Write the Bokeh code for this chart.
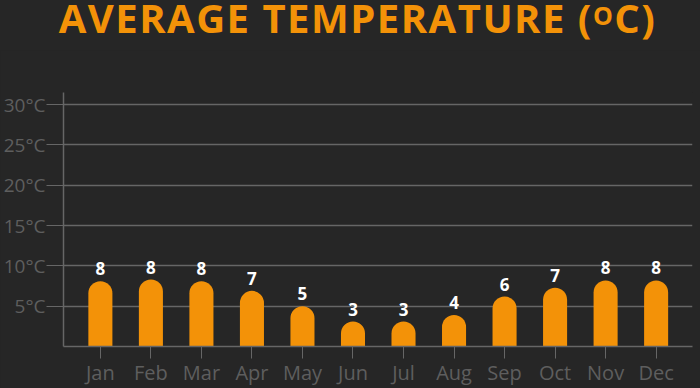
from bokeh.plotting import figure
from bokeh.models import Range1d, FixedTicker, ColumnDataSource, Div
from bokeh.layouts import column
from bokeh.embed import file_html
from bokeh.resources import INLINE
from bokeh.core.properties import value

months = ["Jan", "Feb", "Mar", "Apr", "May", "Jun", "Jul", "Aug", "Sep", "Oct", "Nov", "Dec"]
temps = [8.1, 8.3, 8.1, 6.9, 5.0, 3.1, 3.1, 3.9, 6.2, 7.3, 8.2, 8.2]
y_ticks = [5, 10, 15, 20, 25, 30]
y_tick_labels = ["5°C", "10°C", "15°C", "20°C", "25°C", "30°C"]
title_main = "AVERAGE TEMPERATURE ("
title_sup = "O"
title_end = "C)"

BG = "#262626"
ORANGE = "#F39208"
GREY = "#666666"
LABEL_GREY = "#5e5e5e"

TITLE_H = 50

title = Div(
    text=(f'<div style="position:relative;top:-2px;text-align:center;box-sizing:border-box;'
          f'padding-left:15px;width:700px;white-space:nowrap;color:{ORANGE};'
          f'font-family:\'Open Sans\';font-weight:bold;font-size:40px;line-height:1;'
          f'letter-spacing:1.5px;">'
          f'{title_main}<span style="font-size:25px;vertical-align:8px;">{title_sup}</span>'
          f'{title_end}</div>'),
    width=700, height=TITLE_H, margin=0, styles={"overflow": "visible"})

xs = list(range(len(months)))
src = ColumnDataSource(dict(x=xs, top=temps, label=[str(int(round(t))) for t in temps]))

p = figure(width=700, height=388 - TITLE_H, output_backend="svg", toolbar_location=None,
           x_range=Range1d(-0.73, 11.72), y_range=Range1d(0, 31.5),
           background_fill_color=BG, border_fill_color=BG,
           min_border_left=0, min_border_right=8, min_border_top=92 - TITLE_H,
           min_border_bottom=0, outline_line_color=None, margin=0)

p.vbar(x="x", top="top", bottom=0, width=0.476, source=src, fill_color=ORANGE,
       line_color=None, border_radius=(12, 12, 0, 0))
p.text(x="x", y="top", text="label", source=src, text_align="center",
       text_baseline="bottom", y_offset=-6, text_color="white",
       text_font=value("Open Sans"), text_font_style="bold", text_font_size="17px")

# y axis
p.yaxis.ticker = FixedTicker(ticks=y_ticks)
p.yaxis.major_label_overrides = {t: l for t, l in zip(y_ticks, y_tick_labels)}
p.yaxis.major_tick_out = 17
p.yaxis.major_tick_in = 0
p.yaxis.minor_tick_line_color = None
p.yaxis.major_tick_line_color = GREY
p.yaxis.axis_line_color = GREY
p.yaxis.axis_line_width = 1.5
p.yaxis.major_label_text_color = LABEL_GREY
p.yaxis.major_label_text_font = "Open Sans"
p.yaxis.major_label_text_font_size = "19px"
p.yaxis.major_label_standoff = 1

# x axis
p.xaxis.ticker = FixedTicker(ticks=xs)
p.xaxis.major_label_overrides = {x: m for x, m in zip(xs, months)}
p.xaxis.major_tick_out = 12
p.xaxis.major_tick_in = 0
p.xaxis.minor_tick_line_color = None
p.xaxis.major_tick_line_color = GREY
p.xaxis.axis_line_color = GREY
p.xaxis.axis_line_width = 1.5
p.xaxis.major_label_text_color = LABEL_GREY
p.xaxis.major_label_text_font = "Open Sans"
p.xaxis.major_label_text_font_size = "20px"
p.xaxis.major_label_standoff = 0

p.xgrid.grid_line_color = None
p.ygrid.ticker = FixedTicker(ticks=y_ticks)
p.ygrid.grid_line_color = GREY
p.ygrid.grid_line_width = 1.5

layout = column(title, p, spacing=0, margin=0)

html = file_html(layout, INLINE)
html = html.replace("<head>", "<head><style>html,body{margin:0;padding:0;background:#262626;overflow:hidden}</style>", 1)
open("out.html", "w").write(html)
